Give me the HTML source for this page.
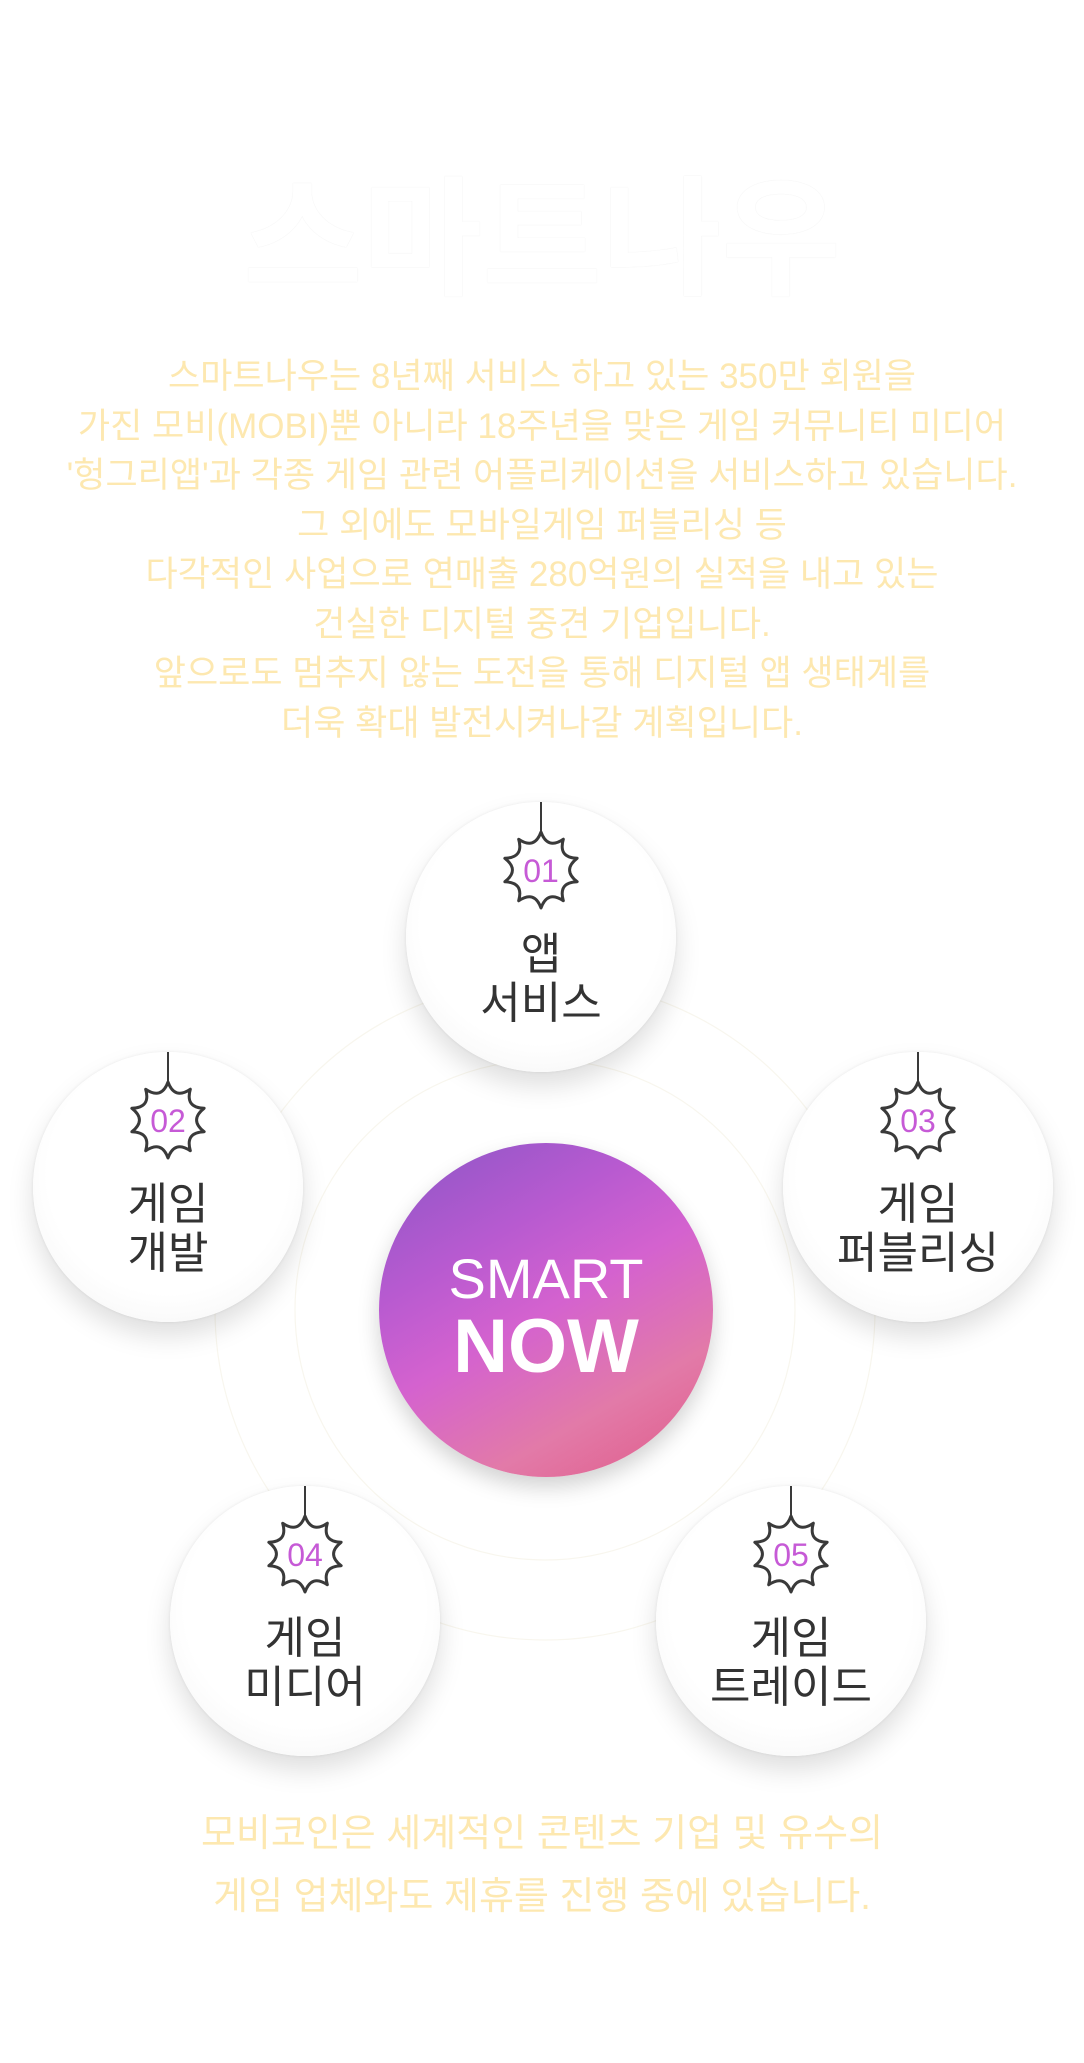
<!DOCTYPE html>
<html><head><meta charset="utf-8">
<style>
html,body{margin:0;padding:0;background:#fff;}
body{width:1084px;height:2063px;position:relative;overflow:hidden;font-family:"Liberation Sans","Noto Sans CJK KR",sans-serif;}
.title{position:absolute;left:0;width:1084px;top:160px;text-align:center;font-size:130px;font-weight:bold;color:#fff;line-height:160px;letter-spacing:0px;
 text-shadow:0 0 1px rgba(0,0,0,0.10);}
.para{position:absolute;left:0;width:1084px;text-align:center;color:#fde8b0;font-size:35px;line-height:49.5px;}
.c{position:absolute;width:270px;height:270px;border-radius:50%;background:radial-gradient(circle at 50% 45%,#fff 60%,#f6f6f6 85%,#ececec 100%);
 box-shadow:0 14px 26px rgba(0,0,0,0.13),0 0 3px rgba(0,0,0,0.08);}
.c .ln{position:absolute;left:134px;top:0;width:2px;height:32px;background:#3a3a3a;}
.c svg{position:absolute;left:95px;top:28px;}
.c .lab{position:absolute;left:-20px;width:310px;top:128px;text-align:center;font-size:44px;line-height:49px;color:#333;}
.mid{position:absolute;left:379px;top:1143px;width:334px;height:334px;border-radius:50%;
 background:linear-gradient(150deg,#8a56c6 0%,#b75ad0 30%,#d462cf 50%,#e27aa8 75%,#e05a88 100%);
 box-shadow:0 10px 22px rgba(0,0,0,0.18);color:#fff;text-align:center;}
.mid .s{position:absolute;width:100%;top:106px;font-size:56px;line-height:60px;}
.mid .n{position:absolute;width:100%;top:164px;font-size:76px;font-weight:bold;line-height:80px;}
</style></head><body>
<svg style="position:absolute;left:0;top:0" width="1084" height="2063">
<g fill="none" stroke="#f8f6ee" stroke-width="1.2">
<circle cx="545" cy="1310" r="330"/>
<circle cx="545" cy="1310" r="250"/>
</g>
</svg>
<div class="title">스마트나우</div>
<div class="para" style="top:352px">스마트나우는 8년째 서비스 하고 있는 350만 회원을<br>가진 모비(MOBI)뿐 아니라 18주년을 맞은 게임 커뮤니티 미디어<br>'헝그리앱'과 각종 게임 관련 어플리케이션을 서비스하고 있습니다.<br>그 외에도 모바일게임 퍼블리싱 등<br>다각적인 사업으로 연매출 280억원의 실적을 내고 있는<br>건실한 디지털 중견 기업입니다.<br>앞으로도 멈추지 않는 도전을 통해 디지털 앱 생태계를<br>더욱 확대 발전시켜나갈 계획입니다.</div>

<div class="c" style="left:406px;top:802px"><div class="ln"></div><svg width="80" height="80"><path class="st"/><text x="40" y="52" text-anchor="middle" font-size="32" fill="#c65ad6" font-family="Liberation Sans,sans-serif">01</text></svg><div class="lab">앱<br>서비스</div></div>
<div class="c" style="left:33px;top:1052px"><div class="ln"></div><svg width="80" height="80"><path class="st"/><text x="40" y="52" text-anchor="middle" font-size="32" fill="#c65ad6" font-family="Liberation Sans,sans-serif">02</text></svg><div class="lab">게임<br>개발</div></div>
<div class="c" style="left:783px;top:1052px"><div class="ln"></div><svg width="80" height="80"><path class="st"/><text x="40" y="52" text-anchor="middle" font-size="32" fill="#c65ad6" font-family="Liberation Sans,sans-serif">03</text></svg><div class="lab">게임<br>퍼블리싱</div></div>
<div class="c" style="left:170px;top:1486px"><div class="ln"></div><svg width="80" height="80"><path class="st"/><text x="40" y="52" text-anchor="middle" font-size="32" fill="#c65ad6" font-family="Liberation Sans,sans-serif">04</text></svg><div class="lab">게임<br>미디어</div></div>
<div class="c" style="left:656px;top:1486px"><div class="ln"></div><svg width="80" height="80"><path class="st"/><text x="40" y="52" text-anchor="middle" font-size="32" fill="#c65ad6" font-family="Liberation Sans,sans-serif">05</text></svg><div class="lab">게임<br>트레이드</div></div>

<div class="mid"><div class="s">SMART</div><div class="n">NOW</div></div>

<div class="para" style="top:1803px;font-size:38px;line-height:63px">모비코인은 세계적인 콘텐츠 기업 및 유수의<br>게임 업체와도 제휴를 진행 중에 있습니다.</div>

<script>
(function(){
 var n=10,R=38,cx=40,cy=40,d="";
 for(var i=0;i<n;i++){
  var a=-Math.PI/2+i*2*Math.PI/n, b=a+Math.PI/n, a2=a+2*Math.PI/n;
  var x=cx+R*Math.cos(a),y=cy+R*Math.sin(a);
  var qx=cx+21*Math.cos(b),qy=cy+21*Math.sin(b);
  var x2=cx+R*Math.cos(a2),y2=cy+R*Math.sin(a2);
  if(i==0)d+="M"+x.toFixed(2)+" "+y.toFixed(2);
  d+="Q"+qx.toFixed(2)+" "+qy.toFixed(2)+" "+x2.toFixed(2)+" "+y2.toFixed(2);
 }
 d+="Z";
 var ps=document.querySelectorAll("path.st");
 for(var j=0;j<ps.length;j++){ps[j].setAttribute("d",d);ps[j].setAttribute("fill","#fff");ps[j].setAttribute("stroke","#3a3a3a");ps[j].setAttribute("stroke-width","3");ps[j].setAttribute("stroke-linejoin","round");}
})();
</script>
</body></html>
